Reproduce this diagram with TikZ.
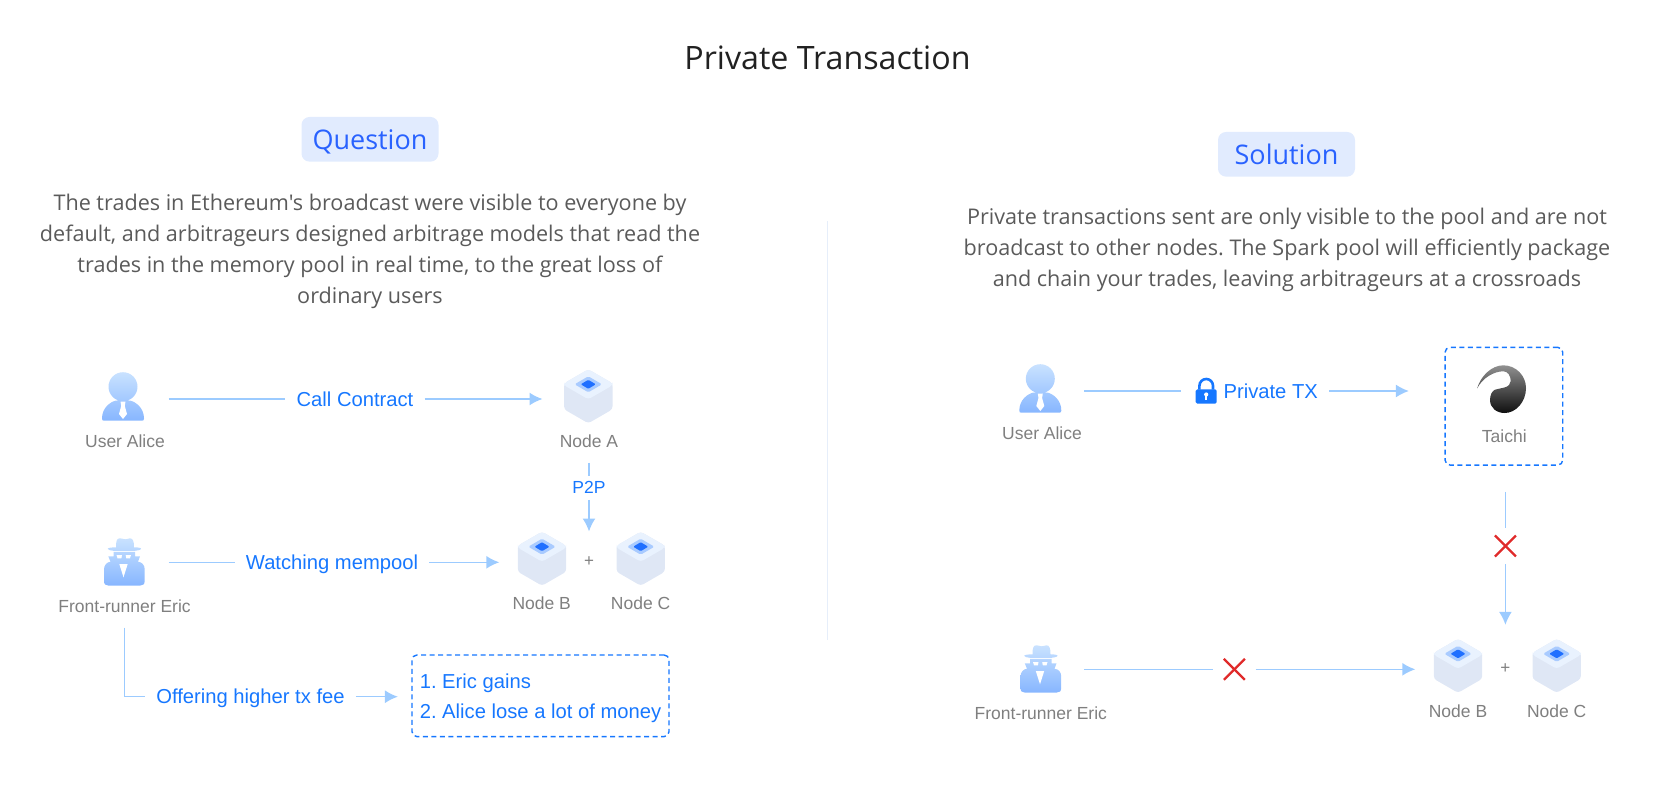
\documentclass[tikz,border=0pt]{standalone}
\usepackage{fontspec}
\setmainfont{Open Sans}
\newfontfamily\paragraphfont{Open Sans}
\newfontfamily\labelfont{Liberation Sans}
\usetikzlibrary{arrows.meta}
\frenchspacing

\definecolor{flowline}{HTML}{9CCBFF}
\definecolor{flowtext}{HTML}{1677FF}
\definecolor{headtext}{HTML}{2962FF}
\definecolor{headfill}{HTML}{E1EBFE}
\definecolor{bodytext}{HTML}{5A5A5A}
\definecolor{icontext}{HTML}{7F7F7F}
\definecolor{crossred}{HTML}{E02A2A}
\definecolor{dividerline}{HTML}{E6EEFA}
\definecolor{icontop}{HTML}{C9E2FF}
\definecolor{iconbottom}{HTML}{87B6FF}
\definecolor{cubeside}{HTML}{DFE7F5}
\definecolor{cubetop}{HTML}{E9F2FE}
\definecolor{cubemid}{HTML}{A9CBFF}
\definecolor{cubecore}{HTML}{1F6FFF}
\definecolor{logotop}{HTML}{909090}
\definecolor{logomid}{HTML}{505050}
\definecolor{logobottom}{HTML}{0F0F0F}

\tikzset{
	flow/.style={flowline, line width=1.5pt},
	flowarrow/.style={flow, -{Latex[length=13pt,width=13pt]}},
	flowlabel/.style={font=\labelfont\fontsize{20.2}{24}\selectfont, text=flowtext, text height=18pt, text depth=4pt, inner xsep=11pt, inner ysep=0pt},
	icontitle/.style={font=\labelfont\fontsize{17.5}{21}\selectfont, text=icontext, text height=16pt, text depth=3.5pt, inner xsep=0pt, inner ysep=11pt},
	hopbox/.style={font=\labelfont\fontsize{17.5}{21}\selectfont, text=flowtext, text height=16pt, text depth=3.5pt, inner xsep=0pt, inner ysep=2.2pt},
	iconspot/.style={inner sep=0pt, minimum height=46pt, minimum width=#1},
	heading/.style={fill=headfill, rounded corners=8pt, text=headtext, font=\fontsize{27}{32}\selectfont, text height=21pt, text depth=0.3pt, minimum height=44.7pt, minimum width=137pt, inner sep=0pt},
	para/.style={text=bodytext, font=\paragraphfont\fontsize{21.6}{31}\selectfont, align=center, inner sep=0pt},
	dashbox/.style={draw=flowtext, line width=1.4pt, dash pattern=on 5pt off 3.5pt, rounded corners=5pt, inner sep=0pt},
	resultbox/.style={dashbox, text=flowtext, font=\labelfont\fontsize{20.2}{30}\selectfont, align=left, minimum width=257pt, minimum height=81.7pt},
	plussign/.style={text=icontext, font=\labelfont\fontsize{17}{20}\selectfont, inner sep=0pt, minimum height=#1},
	crossgap/.style={inner sep=0pt, minimum width=42pt, minimum height=36pt, path picture={
		\draw[crossred, line width=2.3pt] (path picture bounding box.center) ++(-10.5,-10.5) -- ++(21,21);
		\draw[crossred, line width=2.3pt] (path picture bounding box.center) ++(10.5,-10.5) -- ++(-21,21);}},
	usericon/.pic={
		\shade[top color=icontop, bottom color=iconbottom] (0,-12.3) circle[radius=14.5]
			(-21,19.5) .. controls (-21,9) and (-13,3) .. (-7,1.5) -- (7,1.5) .. controls (13,3) and (21,9) .. (21,19.5) .. controls (21,21) and (20.5,21.7) .. (19,21.7) -- (-19,21.7) .. controls (-20.5,21.7) and (-21,21) .. (-21,19.5) -- cycle;
		\fill[white] (-2.5,2.5) -- (2.5,2.5) -- (1.8,7) -- (4,15) -- (0,20) -- (-4,15) -- (-1.8,7) -- cycle;
	},
	spyicon/.pic={
		\shade[top color=icontop, bottom color=iconbottom] (-8,-15) .. controls (-8,-22) and (-7,-24) .. (-4,-24) .. controls (-2,-24) and (0,-23) .. (1,-23) .. controls (3,-23) and (5,-24) .. (6,-24) .. controls (9,-24) and (10,-21) .. (10,-15) .. controls (14,-15) and (17,-14.5) .. (17,-13.5) .. controls (17,-12.5) and (13,-11.5) .. (11,-11.5) -- (-10.5,-11.5) .. controls (-13,-11.5) and (-16.3,-12.5) .. (-16.3,-13.5) .. controls (-16.3,-14.5) and (-12,-15) .. (-8,-15) -- cycle
			(-10.5,-10.5) -- (11,-10.5) -- (11,-6) -- (16,-6) -- (14,-0.5) .. controls (18,-0.5) and (20.7,3) .. (20.7,7) -- (20.7,18.5) .. controls (20.7,22) and (19,23.3) .. (16,23.3) -- (-15.5,23.3) .. controls (-18.5,23.3) and (-20,22) .. (-20,18.5) -- (-20,7) .. controls (-20,3) and (-17,-0.5) .. (-13.5,-0.5) -- (-15.7,-6) -- (-10.5,-6) -- cycle;
		\fill[white] (-7.5,-7.3) -- (-2,-7.3) -- (-2.6,-4) -- (-6.5,-4) -- cycle (1.7,-7.3) -- (7,-7.3) -- (6,-4) -- (2.3,-4) -- cycle;
		\fill[white] (-4.7,1.7) -- (3.7,1.7) -- (-0.5,15) -- cycle;
	},
	chaincube/.pic={
		\fill[cubeside, rounded corners=3pt] (0,-27) -- (24.2,-13) -- (24.2,13) -- (0,27) -- (-24.2,13) -- (-24.2,-13) -- cycle;
		\fill[cubetop, rounded corners=3pt] (0,-27) -- (24.2,-13) -- (24.2,-11) -- (0,3) -- (-24.2,-11) -- (-24.2,-13) -- cycle;
		\fill[cubemid, rounded corners=1.5pt] (-13.7,-12) -- (0,-20) -- (13.7,-12) -- (0,-4) -- cycle;
		\fill[cubecore, rounded corners=1pt] (-7.5,-12) -- (0,-16.5) -- (7.5,-12) -- (0,-7.5) -- cycle;
	},
	padlock/.pic={
		\draw[flowtext, line width=2.6pt] (-6.8,-1.5) -- (-6.8,-5.2) arc[start angle=180, end angle=360, radius=6.8] -- (6.8,-1.5);
		\fill[flowtext, rounded corners=1.5pt] (-10.5,-1.7) rectangle (10.5,12.7);
		\fill[white] (0,3.5) circle[radius=2.1];
		\fill[white] (-1,4) rectangle (1,8.5);
	},
	taichilogo/.pic={
		\shade[top color=logotop, middle color=logomid, bottom color=logobottom] (-24.4,0) .. controls (-21,-12) and (-10,-22.7) .. (1.6,-22.7) .. controls (14,-22.7) and (24.3,-12.5) .. (24.3,0) .. controls (24.3,14) and (14,25) .. (3,25) .. controls (-5,25) and (-11.7,20) .. (-11.7,12) .. controls (-11.7,6.5) and (-9.5,3) .. (-6.7,1.7) .. controls (-3,0.5) and (-0.5,0.5) .. (3.3,-0.7) .. controls (6.5,-1.5) and (9,-4) .. (9,-7) .. controls (9,-12.5) and (6,-16.7) .. (1.6,-16.7) .. controls (-8,-16.7) and (-19,-10) .. (-24.4,0) -- cycle;
	}
}

\begin{document}
\begin{tikzpicture}[x=1pt, y=-1pt]
	\useasboundingbox (0,0) rectangle (1653,789);

	\node[text=black!87, font=\fontsize{32.2}{38}\selectfont, inner sep=0pt] (title) at (827.5,58) {Private Transaction};
	\draw[dividerline, line width=1pt] (827.5,221) -- (827.5,640);

	\node[heading] (question) at (370,139.3) {Question};
	\node[para] (questionText) at (370,251.5) {The trades in Ethereum's broadcast were visible to everyone by\\default, and arbitrageurs designed arbitrage models that read the\\trades in the memory pool in real time, to the great loss of\\ordinary users};
	\node[heading] (solution) at (1286.5,154.3) {Solution};
	\node[para] (solutionText) at (1287,250.2) {Private transactions sent are only visible to the pool and are not\\broadcast to other nodes. The Spark pool will efficiently package\\and chain your trades, leaving arbitrageurs at a crossroads};

	% question side
	\node[iconspot=90.6pt] (aliceL) at (123,399) {};
	\pic at (123,399) {usericon};
	\node[icontitle] (aliceTextL) at (125,441.7) {User Alice};
	\node[flowlabel] (callL) at (355,399) {Call Contract};
	\node[iconspot=92.6pt] (nodeAL) at (589,399) {};
	\pic at (588.3,396.3) {chaincube};
	\node[icontitle] (nodeATextL) at (589,441.7) {Node A};
	\node[hopbox] (hopL) at (589,487.7) {P2P};
	\node[plussign=60pt] (plusL) at (589,561.7) {+};
	\node[iconspot=90pt] (ericL) at (123.5,562.3) {};
	\pic at (124,562.3) {spyicon};
	\node[icontitle] (ericTextL) at (124.6,606.7) {Front-runner Eric};
	\node[flowlabel] (watchL) at (332,562.3) {Watching mempool};
	\node[iconspot=85pt] (nodeBL) at (542,562.3) {};
	\pic at (542,558.7) {chaincube};
	\pic at (640.7,558.7) {chaincube};
	\node[icontitle] (nodeBTextL) at (541.7,603.3) {Node B};
	\node[icontitle] (nodeCTextL) at (640.6,603.3) {Node C};
	\node[flowlabel] (offerL) at (250.5,696.7) {Offering higher tx fee};
	\node[resultbox] (resultL) at (540.5,695.8) {\rule{0pt}{19pt}1. Eric gains\\2. Alice lose a lot of money};

	\draw[flow] (aliceL) -- (callL);
	\draw[flowarrow] (callL) -- (nodeAL);
	\draw[flow] (nodeATextL) -- (hopL);
	\draw[flowarrow] (hopL) -- (plusL);
	\draw[flow] (ericL) -- (watchL);
	\draw[flowarrow] (watchL) -- (nodeBL);
	\draw[flow] (ericTextL.south) |- (offerL.west);
	\draw[flowarrow, shorten >=13.4pt] (offerL) -- (resultL.west |- offerL);

	% solution side
	\node[iconspot=87pt] (aliceR) at (1040.4,391) {};
	\pic at (1040.3,391) {usericon};
	\node[icontitle] (aliceTextR) at (1042,433.7) {User Alice};
	\node[iconspot=51pt, minimum height=30pt] (lockR) at (1206.2,391) {};
	\pic at (1206.2,391) {padlock};
	\node[flowlabel] (privateR) at (1270.7,391) {Private TX};
	\node[dashbox, minimum width=117.7pt, minimum height=117.7pt] (taichiR) at (1503.9,406.2) {};
	\pic at (1501.7,388) {taichilogo};
	\node[icontitle] (taichiTextR) at (1504.3,436.7) {Taichi};
	\node[crossgap] (crossVR) at (1505.4,546) {};
	\node[plussign=86.6pt] (plusR) at (1505.4,668.3) {+};
	\node[iconspot=87pt] (ericR) at (1040.5,669.3) {};
	\pic at (1040.5,669.3) {spyicon};
	\node[icontitle] (ericTextR) at (1040.8,713.7) {Front-runner Eric};
	\node[crossgap] (crossHR) at (1234.3,669.3) {};
	\node[iconspot=85pt] (nodeBR) at (1458,669.3) {};
	\pic at (1458,665.8) {chaincube};
	\pic at (1556.7,665.8) {chaincube};
	\node[icontitle] (nodeBTextR) at (1458,711) {Node B};
	\node[icontitle] (nodeCTextR) at (1556.7,711) {Node C};

	\draw[flow] (aliceR) -- (lockR);
	\draw[flowarrow, shorten >=35.5pt] (privateR) -- (taichiR.west |- privateR);
	\draw[flow, shorten <=26pt] (taichiR.south -| crossVR) -- (crossVR);
	\draw[flowarrow] (crossVR) -- (plusR);
	\draw[flow] (ericR) -- (crossHR);
	\draw[flowarrow] (crossHR) -- (nodeBR);
\end{tikzpicture}
\end{document}
